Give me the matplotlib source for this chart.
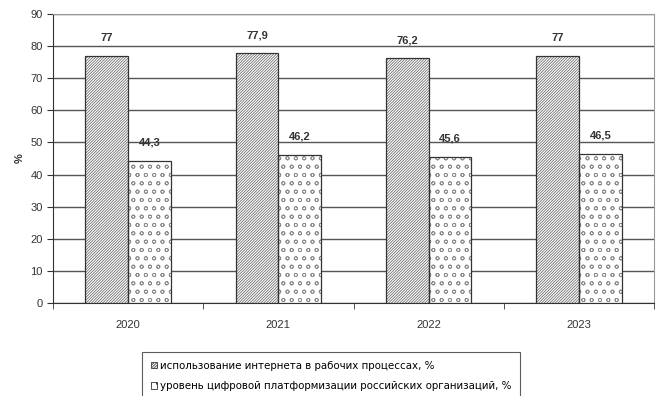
import numpy as np
import matplotlib
matplotlib.use('Agg')
import matplotlib.pyplot as plt

plt.rcParams['font.family'] = ['Liberation Sans', 'DejaVu Sans']
plt.rcParams['hatch.linewidth'] = 0.55

years = ['2020', '2021', '2022', '2023']
internet = [77, 77.9, 76.2, 77]
platform = [44.3, 46.2, 45.6, 46.5]
labels_internet = ['77', '77,9', '76,2', '77']
labels_platform = ['44,3', '46,2', '45,6', '46,5']
names = ['использование интернета в рабочих процессах, %',
         'уровень цифровой платформизации российских организаций, %']

fig = plt.figure(figsize=(6.57, 3.96), dpi=100)
ax = fig.add_axes([53/657, 1 - 303/396, 601/657, 289/396])

ind = np.arange(len(years))
w = 0.285
# hatch fill (lighter) then dark outline on top
b1 = ax.bar(ind - w/2, internet, w, color='white', edgecolor='#666666',
            hatch='/' * 12, linewidth=0, label=names[0], zorder=3)
b2 = ax.bar(ind + w/2, platform, w, color='white', edgecolor='#8a8a8a',
            hatch='oo', linewidth=0, label=names[1], zorder=3)
ax.bar(ind - w/2, internet, w, fill=False, edgecolor='#333333', linewidth=0.9, zorder=4)
ax.bar(ind + w/2, platform, w, fill=False, edgecolor='#333333', linewidth=0.9, zorder=4)

for i in ind:
    ax.text(i - w/2, internet[i] + 4, labels_internet[i], ha='center', va='bottom',
            fontsize=8, fontweight='bold', color='#333333')
    ax.text(i + w/2, platform[i] + 4, labels_platform[i], ha='center', va='bottom',
            fontsize=8, fontweight='bold', color='#333333')

ax.set_xlim(-0.5, 3.5)
ax.set_ylim(0, 90)
ax.set_yticks(np.arange(0, 91, 10))
ax.set_xticks(ind)
ax.set_xticklabels(years)
ax.set_xticks(np.arange(-0.5, 3.6, 1), minor=True)
ax.tick_params(axis='x', which='major', length=0, labelsize=8, pad=12, labelcolor='#333333')
ax.tick_params(axis='x', which='minor', length=4, color='#333333')
ax.tick_params(axis='y', labelsize=8, length=4, color='#333333', labelcolor='#333333')
ax.yaxis.grid(True, color='#555555', linewidth=1.0, zorder=0)
ax.set_axisbelow(True)
for s in ['top', 'right']:
    ax.spines[s].set_color('#999999')
for s in ['left', 'bottom']:
    ax.spines[s].set_color('#333333')
ax.set_ylabel('%', fontsize=8, fontweight='bold', labelpad=4, color='#333333')

leg = fig.legend(handles=[b1, b2], loc='upper left', bbox_to_anchor=(142/657, 1 - 352/396),
                 prop={'family': 'DejaVu Sans', 'size': 7.4},
                 frameon=True, fancybox=False, edgecolor='#333333',
                 handlelength=0.6, handleheight=0.6, handletextpad=0.3,
                 borderpad=0.85, labelspacing=1.0, borderaxespad=0)
leg.get_frame().set_linewidth(0.8)
for h in leg.legend_handles:
    h.set_edgecolor('#333333')
    h.set_linewidth(0.6)

fig.savefig('out.png', dpi=100)
